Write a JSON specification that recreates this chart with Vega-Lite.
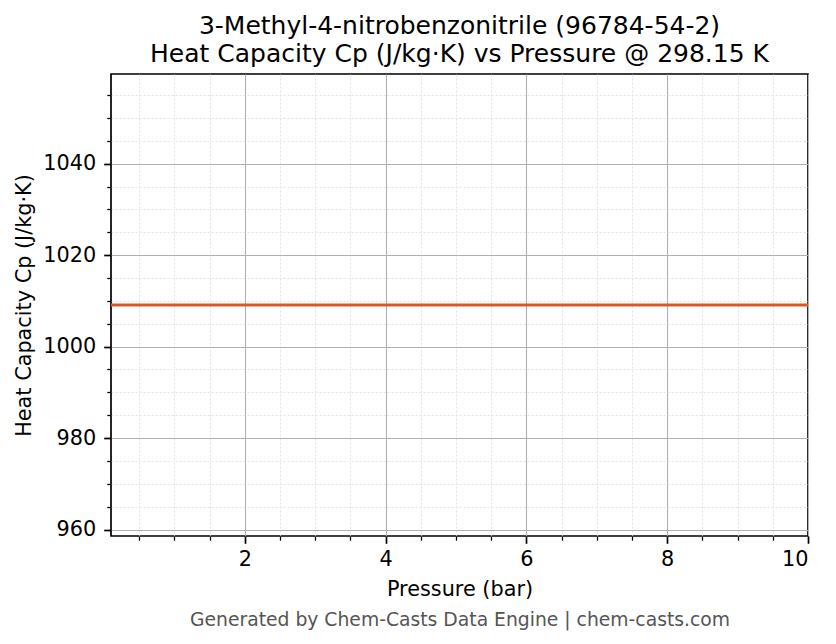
{
  "$schema": "https://vega.github.io/schema/vega-lite/v6.json",
  "width": 697,
  "height": 462,
  "autosize": {"type": "none"},
  "padding": {"left": 111, "top": 74, "right": 28, "bottom": 108},
  "background": "white",
  "config": {
    "font": "DejaVu Sans",
    "view": {"stroke": "black", "strokeWidth": 1.7},
    "axis": {"domain": false, "labelFont": "DejaVu Sans", "titleFont": "DejaVu Sans", "labelColor": "black", "titleColor": "black", "tickColor": "black", "titleFontWeight": "normal"}
  },
  "title": {
    "text": ["3-Methyl-4-nitrobenzonitrile (96784-54-2)", "Heat Capacity Cp (J/kg·K) vs Pressure @ 298.15 K"],
    "font": "DejaVu Sans",
    "fontSize": 25,
    "fontWeight": "normal",
    "color": "black",
    "anchor": "middle",
    "lineHeight": 28,
    "offset": 7
  },
  "data": {
    "values": [
      {"pressure": 0.1, "cp": 1009.1},
      {"pressure": 1, "cp": 1009.1},
      {"pressure": 2, "cp": 1009.1},
      {"pressure": 3, "cp": 1009.1},
      {"pressure": 4, "cp": 1009.1},
      {"pressure": 5, "cp": 1009.1},
      {"pressure": 6, "cp": 1009.1},
      {"pressure": 7, "cp": 1009.1},
      {"pressure": 8, "cp": 1009.1},
      {"pressure": 9, "cp": 1009.1},
      {"pressure": 10, "cp": 1009.1}
    ]
  },
  "layer": [
    {
      "mark": {"type": "line", "opacity": 0},
      "encoding": {
        "x": {"field": "pressure", "type": "quantitative", "scale": {"domain": [0.1, 10], "nice": false, "zero": false},
          "axis": {"orient": "bottom", "values": [0.5, 1, 1.5, 2.5, 3, 3.5, 4.5, 5, 5.5, 6.5, 7, 7.5, 8.5, 9, 9.5], "labels": false, "title": null, "tickSize": 4.2, "tickWidth": 1.25, "grid": true, "gridColor": "#dcdcdc", "gridWidth": 0.8, "gridDash": [2, 2]}},
        "y": {"field": "cp", "type": "quantitative", "scale": {"domain": [958.6, 1059.6], "nice": false, "zero": false},
          "axis": {"orient": "left", "values": [965, 970, 975, 985, 990, 995, 1005, 1010, 1015, 1025, 1030, 1035, 1045, 1050, 1055], "labels": false, "title": null, "tickSize": 4.2, "tickWidth": 1.25, "grid": true, "gridColor": "#dcdcdc", "gridWidth": 0.8, "gridDash": [2, 2]}}
      }
    },
    {
      "mark": {"type": "line", "opacity": 0},
      "encoding": {
        "x": {"field": "pressure", "type": "quantitative",
          "axis": {"orient": "bottom", "values": [2], "labels": false, "ticks": false, "grid": false, "title": "Generated by Chem-Casts Data Engine | chem-casts.com", "titleFontSize": 18.75, "titleColor": "#555555", "titlePadding": 74, "titleX": 348.5}},
        "y": {"field": "cp", "type": "quantitative", "axis": null}
      }
    },
    {
      "mark": {"type": "line", "color": "#df5626", "strokeWidth": 3},
      "encoding": {
        "x": {"field": "pressure", "type": "quantitative",
          "axis": {"orient": "bottom", "values": [2, 4, 6, 8, 10], "format": "d", "title": "Pressure (bar)", "titleFontSize": 20.8, "titlePadding": 10, "labelFontSize": 20.8, "labelPadding": 6, "tickSize": 7.3, "tickWidth": 1.7, "grid": true, "gridColor": "#b0b0b0", "gridWidth": 1.1}},
        "y": {"field": "cp", "type": "quantitative",
          "axis": {"orient": "left", "values": [960, 980, 1000, 1020, 1040], "format": "d", "title": "Heat Capacity Cp (J/kg·K)", "titleFontSize": 20.8, "titlePadding": 8, "labelFontSize": 20.8, "labelPadding": 8, "tickSize": 7.3, "tickWidth": 1.7, "grid": true, "gridColor": "#b0b0b0", "gridWidth": 1.1}}
      }
    }
  ],
  "resolve": {"axis": {"x": "independent", "y": "independent"}}
}
